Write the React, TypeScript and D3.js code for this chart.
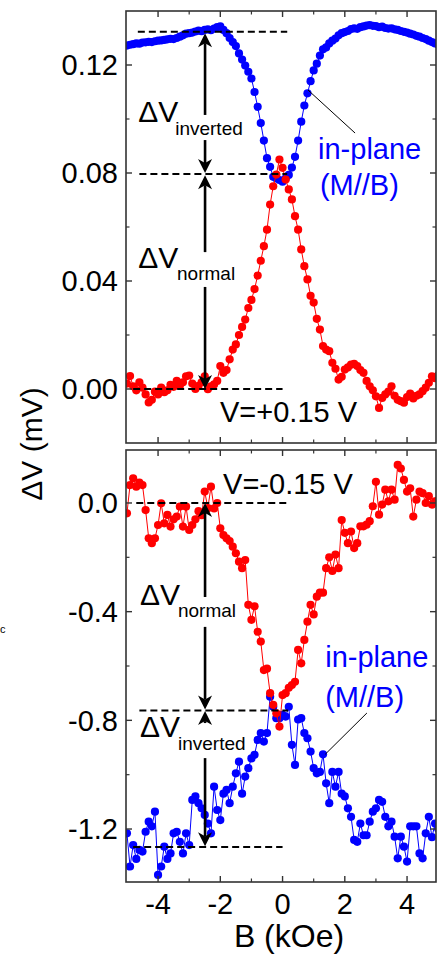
import React from 'react';
import * as d3 from 'd3';

// Magnetic field sweep (kOe)
const FIELD = [
  -5.0, -4.9, -4.8, -4.7, -4.6, -4.5, -4.4, -4.3, -4.2, -4.1,
  -4.0, -3.9, -3.8, -3.7, -3.6, -3.5, -3.4, -3.3, -3.2, -3.1,
  -3.0, -2.9, -2.8, -2.7, -2.6, -2.5, -2.4, -2.3, -2.2, -2.1,
  -2.0, -1.9, -1.8, -1.7, -1.6, -1.5, -1.4, -1.3, -1.2, -1.1,
  -1.0, -0.9, -0.8, -0.7, -0.6, -0.5, -0.4, -0.3, -0.2, -0.1,
  0.0, 0.1, 0.2, 0.3, 0.4, 0.5, 0.6, 0.7, 0.8, 0.9,
  1.0, 1.1, 1.2, 1.3, 1.4, 1.5, 1.6, 1.7, 1.8, 1.9,
  2.0, 2.1, 2.2, 2.3, 2.4, 2.5, 2.6, 2.7, 2.8, 2.9,
  3.0, 3.1, 3.2, 3.3, 3.4, 3.5, 3.6, 3.7, 3.8, 3.9,
  4.0, 4.1, 4.2, 4.3, 4.4, 4.5, 4.6, 4.7, 4.8, 4.9,
  5.0,
];

// Top panel, V = +0.15 V
const TOP_INPLANE = [
  0.1272, 0.1275, 0.1277, 0.1280, 0.1279, 0.1283, 0.1284, 0.1286, 0.1285, 0.1288,
  0.1290, 0.1291, 0.1293, 0.1295, 0.1297, 0.1296, 0.1300, 0.1305, 0.1310, 0.1316,
  0.1318, 0.1320, 0.1324, 0.1327, 0.1325, 0.1330, 0.1332, 0.1329, 0.1335, 0.1340,
  0.1343, 0.1330, 0.1318, 0.1300, 0.1285, 0.1270, 0.1243, 0.1220, 0.1198, 0.1175,
  0.1150, 0.1100, 0.1045, 0.0985, 0.0920, 0.0855, 0.0823, 0.0786, 0.0780, 0.0774,
  0.0768, 0.0780, 0.0793, 0.0820, 0.0860, 0.0920, 0.0990, 0.1050, 0.1095, 0.1140,
  0.1180, 0.1205, 0.1235, 0.1258, 0.1265, 0.1280, 0.1290, 0.1298, 0.1310, 0.1318,
  0.1322, 0.1326, 0.1333, 0.1336, 0.1334, 0.1340, 0.1343, 0.1346, 0.1348, 0.1345,
  0.1344, 0.1340, 0.1342, 0.1337, 0.1335, 0.1336, 0.1332, 0.1330, 0.1326, 0.1323,
  0.1320, 0.1316, 0.1313, 0.1308, 0.1305, 0.1300, 0.1296, 0.1290, 0.1285, 0.1280,
  0.1276,
];
const TOP_NORMAL = [
  0.0020, 0.0048, 0.0010, -0.0005, 0.0025, 0.0005, -0.0020, -0.0050, -0.0040, -0.0010,
  -0.0020, 0.0005, -0.0012, -0.0005, 0.0015, 0.0008, 0.0030, 0.0012, 0.0025, 0.0047,
  0.0050, 0.0020, 0.0000, 0.0012, 0.0025, 0.0047, -0.0001, 0.0010, 0.0017, 0.0030,
  0.0085, 0.0060, 0.0070, 0.0110, 0.0146, 0.0165, 0.0200, 0.0230, 0.0257, 0.0300,
  0.0330, 0.0370, 0.0420, 0.0475, 0.0529, 0.0590, 0.0683, 0.0751, 0.0794, 0.0850,
  0.0819, 0.0776, 0.0739, 0.0702, 0.0640, 0.0590, 0.0517, 0.0455, 0.0406, 0.0345,
  0.0320, 0.0260, 0.0220, 0.0159, 0.0146, 0.0140, 0.0097, 0.0075, 0.0035, 0.0045,
  0.0072, 0.0080, 0.0090, 0.0093, 0.0085, 0.0070, 0.0060, 0.0030, 0.0010, -0.0005,
  -0.0027, -0.0070, -0.0033, -0.0020, -0.0010, 0.0010, -0.0025, -0.0040, -0.0045, -0.0051,
  -0.0030, -0.0017, -0.0035, -0.0025, -0.0020, -0.0008, 0.0005, 0.0023, 0.0047, 0.0040,
  0.0050,
];

// Bottom panel, V = -0.15 V
const BOT_NORMAL = [
  -0.038, 0.066, 0.091, 0.060, 0.075, 0.066, -0.026, -0.130, -0.148, -0.130,
  -0.081, -0.001, -0.075, -0.044, -0.087, -0.060, -0.050, -0.013, -0.087, -0.013,
  -0.099, -0.081, -0.060, -0.030, -0.045, 0.042, -0.019, 0.060, -0.020, 0.000,
  -0.093, -0.118, -0.130, -0.140, -0.161, -0.185, -0.216, -0.240, -0.210, -0.375,
  -0.430, -0.380, -0.474, -0.510, -0.615, -0.610, -0.700, -0.743, -0.774, -0.823,
  -0.707, -0.700, -0.680, -0.670, -0.658, -0.541, -0.590, -0.504, -0.437, -0.375,
  -0.410, -0.345, -0.330, -0.330, -0.240, -0.200, -0.250, -0.190, -0.240, -0.063,
  -0.110, -0.148, -0.105, -0.166, -0.148, -0.086, -0.086, -0.080, -0.067, -0.012,
  0.078, -0.043, -0.006, 0.049, 0.006, 0.049, 0.012, 0.140, 0.127, 0.085,
  0.042, 0.054, -0.050, 0.012, 0.042, 0.036, 0.000, 0.025, -0.006, 0.006,
  0.010,
];
const BOT_INPLANE = [
  -1.216, -1.338, -1.259, -1.310, -1.277, -1.283, -1.210, -1.173, -1.190, -1.136,
  -1.369, -1.338, -1.265, -1.310, -1.290, -1.216, -1.210, -1.247, -1.290, -1.216,
  -1.259, -1.093, -1.080, -1.105, -1.124, -1.148, -1.180, -1.216, -1.044, -1.130,
  -1.167, -1.070, -1.056, -1.105, -1.044, -0.995, -0.952, -1.070, -1.007, -0.976,
  -0.940, -0.927, -0.872, -0.847, -0.878, -0.847, -0.713, -0.750, -0.792, -0.792,
  -0.780, -0.786, -0.750, -0.890, -0.964, -0.797, -0.792, -0.847, -0.866, -0.915,
  -0.976, -0.995, -0.990, -0.925, -1.032, -1.105, -0.990, -1.044, -0.990, -1.070,
  -1.080, -1.124, -1.155, -1.240, -1.247, -1.180, -1.223, -1.223, -1.173, -1.136,
  -1.124, -1.093, -1.100, -1.155, -1.190, -1.173, -1.228, -1.308, -1.228, -1.265,
  -1.320, -1.190, -1.190, -1.190, -1.290, -1.308, -1.216, -1.155, -1.230, -1.180,
  -1.200,
];

const X_TICKS = [-4, -2, 0, 2, 4];
const X_TICK_LABELS = ['-4', '-2', '0', '2', '4'];
const X_MINOR = [-3, -1, 1, 3];
const TOP_TICKS = [0, 0.04, 0.08, 0.12];
const TOP_TICK_LABELS = ['0.00', '0.04', '0.08', '0.12'];
const TOP_MINOR = [0.02, 0.06, 0.1];
const BOT_TICKS = [0, -0.4, -0.8, -1.2];
const BOT_TICK_LABELS = ['0.0', '-0.4', '-0.8', '-1.2'];
const BOT_MINOR = [-0.2, -0.6, -1.0];

const BLUE = '#0000ff';
const RED = '#ff0000';
const FRAME = '#333';
const FONT = "'Liberation Sans', Arial, Helvetica, sans-serif";

const W = 437;
const H = 957;
const LEFT = 126;
const RIGHT = 436;

const x = d3.scaleLinear().domain([-5.03, 4.93]).range([LEFT, RIGHT]);
const yTop = d3.scaleLinear().domain([-0.02, 0.14]).range([443, 11]);
const yBot = d3.scaleLinear().domain([-1.395, 0.195]).range([882, 450]);

type Scale = d3.ScaleLinear<number, number>;

function Series({ values, y, color }: { values: number[]; y: Scale; color: string }) {
  const line = d3
    .line<number>()
    .x((_, i) => x(FIELD[i]))
    .y((d) => y(d));
  return (
    <g>
      <path d={line(values) || ''} fill="none" stroke={color} strokeWidth={1} />
      {values.map((v, i) => (
        <circle key={i} cx={x(FIELD[i])} cy={y(v)} r={4.1} fill={color} />
      ))}
    </g>
  );
}

function Frame({
  y,
  ticks,
  labels,
  minor,
  showXLabels,
}: {
  y: Scale;
  ticks: number[];
  labels: string[];
  minor: number[];
  showXLabels: boolean;
}) {
  const [y0, y1] = y.range();
  const maj = 6;
  const mn = 3.5;
  return (
    <g>
      <rect x={LEFT} y={y1} width={RIGHT - LEFT} height={y0 - y1} fill="none" stroke={FRAME} strokeWidth={1.6} />
      {X_TICKS.map((t) => (
        <g key={'xt' + t}>
          <line x1={x(t)} x2={x(t)} y1={y0} y2={y0 - maj} stroke={FRAME} strokeWidth={1.4} />
          <line x1={x(t)} x2={x(t)} y1={y1} y2={y1 + maj} stroke={FRAME} strokeWidth={1.4} />
        </g>
      ))}
      {X_MINOR.map((t) => (
        <g key={'xm' + t}>
          <line x1={x(t)} x2={x(t)} y1={y0} y2={y0 - mn} stroke={FRAME} strokeWidth={1.2} />
          <line x1={x(t)} x2={x(t)} y1={y1} y2={y1 + mn} stroke={FRAME} strokeWidth={1.2} />
        </g>
      ))}
      {ticks.map((t, i) => (
        <g key={'yt' + t}>
          <line x1={LEFT} x2={LEFT + maj} y1={y(t)} y2={y(t)} stroke={FRAME} strokeWidth={1.4} />
          <line x1={RIGHT} x2={RIGHT - maj} y1={y(t)} y2={y(t)} stroke={FRAME} strokeWidth={1.4} />
          <text x={LEFT - 8} y={y(t)} dy="0.36em" textAnchor="end" fontSize={29} fontFamily={FONT} fill="#000">
            {labels[i]}
          </text>
        </g>
      ))}
      {minor.map((t) => (
        <g key={'ym' + t}>
          <line x1={LEFT} x2={LEFT + mn} y1={y(t)} y2={y(t)} stroke={FRAME} strokeWidth={1.2} />
          <line x1={RIGHT} x2={RIGHT - mn} y1={y(t)} y2={y(t)} stroke={FRAME} strokeWidth={1.2} />
        </g>
      ))}
      {showXLabels &&
        X_TICKS.map((t, i) => (
          <text key={'xl' + t} x={x(t)} y={y0 + 32} textAnchor="middle" fontSize={29} fontFamily={FONT} fill="#000">
            {X_TICK_LABELS[i]}
          </text>
        ))}
    </g>
  );
}

function Dashed({ b1, b2, v, y }: { b1: number; b2: number; v: number; y: Scale }) {
  return (
    <line x1={x(b1)} x2={x(b2)} y1={y(v)} y2={y(v)} stroke="#000" strokeWidth={2} strokeDasharray="7 4" />
  );
}

function Arrow({
  b,
  vTop,
  vBot,
  gapTop,
  gapBot,
  y,
}: {
  b: number;
  vTop: number;
  vBot: number;
  gapTop: number;
  gapBot: number;
  y: Scale;
}) {
  const cx = x(b);
  const t = y(vTop);
  const bt = y(vBot);
  const hw = 7;
  const hl = 14;
  const notch = 10;
  return (
    <g>
      <line x1={cx} x2={cx} y1={t + notch} y2={y(gapTop)} stroke="#000" strokeWidth={2.6} />
      <line x1={cx} x2={cx} y1={y(gapBot)} y2={bt - notch} stroke="#000" strokeWidth={2.6} />
      <path d={`M${cx},${t} L${cx - hw},${t + hl} L${cx},${t + notch} L${cx + hw},${t + hl} Z`} fill="#000" />
      <path d={`M${cx},${bt} L${cx - hw},${bt - hl} L${cx},${bt - notch} L${cx + hw},${bt - hl} Z`} fill="#000" />
    </g>
  );
}

function DeltaLabel({ b, v, sub, subB, subV, y }: { b: number; v: number; sub: string; subB: number; subV: number; y: Scale }) {
  return (
    <g fontFamily={FONT} fill="#000">
      <text x={x(b)} y={y(v)} fontSize={30}>
        ΔV
      </text>
      <text x={x(subB)} y={y(subV)} fontSize={19}>
        {sub}
      </text>
    </g>
  );
}

export default function App() {
  const arrowB = -2.49;
  return (
    <svg
      width={W}
      height={H}
      viewBox={`0 0 ${W} ${H}`}
      style={{ position: 'absolute', left: 0, top: 0, background: '#fff' }}
    >
      <defs>
        <clipPath id="clipTop">
          <rect x={LEFT} y={11} width={RIGHT - LEFT} height={443 - 11} />
        </clipPath>
        <clipPath id="clipBot">
          <rect x={LEFT} y={450} width={RIGHT - LEFT} height={882 - 450} />
        </clipPath>
      </defs>
      <rect x={0} y={0} width={W} height={H} fill="#fff" />

      {/* Top panel */}
      <g clipPath="url(#clipTop)">
        <Series values={TOP_INPLANE} y={yTop} color={BLUE} />
        <Series values={TOP_NORMAL} y={yTop} color={RED} />
      </g>
      <Frame y={yTop} ticks={TOP_TICKS} labels={TOP_TICK_LABELS} minor={TOP_MINOR} showXLabels={false} />
      <Dashed b1={-4.65} b2={0.15} v={0.1323} y={yTop} />
      <Dashed b1={-4.6} b2={0.15} v={0.0796} y={yTop} />
      <Dashed b1={-4.8} b2={0.0} v={0.0} y={yTop} />
      <Arrow b={arrowB} vTop={0.1318} vBot={0.0800} gapTop={0.1015} gapBot={0.0922} y={yTop} />
      <Arrow b={arrowB} vTop={0.0792} vBot={0.0} gapTop={0.0507} gapBot={0.0378} y={yTop} />
      <DeltaLabel b={-4.64} v={0.0989} sub="inverted" subB={-3.45} subV={0.0941} y={yTop} />
      <DeltaLabel b={-4.64} v={0.0448} sub="normal" subB={-3.39} subV={0.0404} y={yTop} />
      <text x={x(-2.01)} y={yTop(-0.0124)} fontSize={29} fontFamily={FONT} fill="#000">
        V=+0.15 V
      </text>
      <text x={x(1.14)} y={yTop(0.0852)} fontSize={29} fontFamily={FONT} fill={BLUE}>
        in-plane
      </text>
      <text x={x(1.2)} y={yTop(0.0719)} fontSize={29} fontFamily={FONT} fill={BLUE}>
        (M//B)
      </text>
      <line x1={x(0.82)} y1={yTop(0.1107)} x2={x(2.33)} y2={yTop(0.0948)} stroke="#000" strokeWidth={1} />

      {/* Bottom panel */}
      <g clipPath="url(#clipBot)">
        <Series values={BOT_INPLANE} y={yBot} color={BLUE} />
        <Series values={BOT_NORMAL} y={yBot} color={RED} />
      </g>
      <Frame y={yBot} ticks={BOT_TICKS} labels={BOT_TICK_LABELS} minor={BOT_MINOR} showXLabels={true} />
      <Dashed b1={-4.7} b2={0.15} v={0.0} y={yBot} />
      <Dashed b1={-4.6} b2={0.18} v={-0.764} y={yBot} />
      <Dashed b1={-4.8} b2={0.0} v={-1.266} y={yBot} />
      <Arrow b={arrowB} vTop={0.0} vBot={-0.76} gapTop={-0.346} gapBot={-0.456} y={yBot} />
      <Arrow b={arrowB} vTop={-0.766} vBot={-1.263} gapTop={-0.81} gapBot={-0.939} y={yBot} />
      <DeltaLabel b={-4.58} v={-0.375} sub="normal" subB={-3.36} subV={-0.42} y={yBot} />
      <DeltaLabel b={-4.58} v={-0.861} sub="inverted" subB={-3.36} subV={-0.909} y={yBot} />
      <text x={x(-1.91)} y={yBot(0.033)} fontSize={29} fontFamily={FONT} fill="#000">
        V=-0.15 V
      </text>
      <text x={x(1.37)} y={yBot(-0.604)} fontSize={29} fontFamily={FONT} fill={BLUE}>
        in-plane
      </text>
      <text x={x(1.37)} y={yBot(-0.751)} fontSize={29} fontFamily={FONT} fill={BLUE}>
        (M//B)
      </text>
      <line x1={x(2.71)} y1={yBot(-0.773)} x2={x(1.37)} y2={yBot(-0.925)} stroke="#000" strokeWidth={1} />

      {/* Axis titles */}
      <text x={289} y={947} textAnchor="middle" fontSize={32} fontFamily={FONT} fill="#000">
        B (kOe)
      </text>
      <text
        transform="translate(42,444) rotate(-90)"
        textAnchor="middle"
        fontSize={30}
        fontFamily={FONT}
        fill="#000"
      >
        ΔV (mV)
      </text>
      <text x={0} y={633} fontSize={11} fontFamily={FONT} fill="#000">
        c
      </text>
    </svg>
  );
}
